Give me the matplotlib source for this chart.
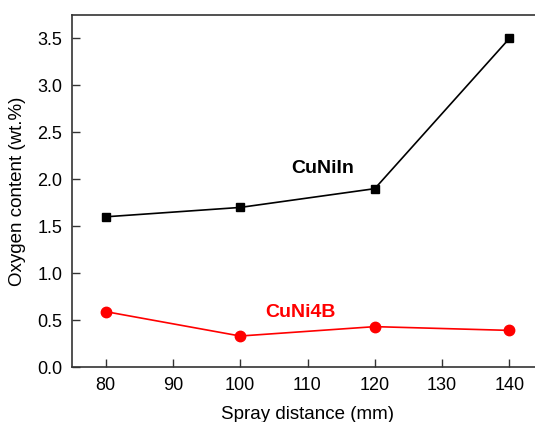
import matplotlib.pyplot as plt

plt.rcParams['font.family'] = ['Liberation Sans', 'DejaVu Sans']

distance = [80, 100, 120, 140]
cuniin = [1.6, 1.7, 1.9, 3.5]
cuni4b = [0.59, 0.33, 0.43, 0.39]

fig = plt.figure(figsize=(5.35, 4.22), dpi=100)
# axes runs past the right edge of the figure like the reference
ax = fig.add_axes([72/535, (422-367)/422, (543-72)/535, (367-15)/422])

ax.plot(distance, cuniin, color='black', lw=1.2, marker='s', ms=6)
ax.plot(distance, cuni4b, color='red', lw=1.2, marker='o', ms=7.5)

ax.text(112.3, 2.12, 'CuNiIn', fontsize=14, fontweight='bold', color='black', ha='center', va='center')
ax.text(109.0, 0.58, 'CuNi4B', fontsize=14, fontweight='bold', color='red', ha='center', va='center')

ax.set_xlim(75, 145)
ax.set_ylim(0, 3.75)
ax.set_xticks([80, 90, 100, 110, 120, 130, 140])
ax.set_yticks([0, 0.5, 1.0, 1.5, 2.0, 2.5, 3.0, 3.5])
ax.set_yticklabels(['0.0', '0.5', '1.0', '1.5', '2.0', '2.5', '3.0', '3.5'])
ax.tick_params(direction='in', length=6, width=1, labelsize=13, pad=7, color='#333333')
for s in ax.spines.values():
    s.set_linewidth(1.2)
    s.set_color('#333333')

ax.set_xlabel('Spray distance (mm)', fontsize=13.5, labelpad=9)
ax.set_ylabel('Oxygen content (wt.%)', fontsize=13.5, labelpad=8)

fig.savefig('out.png', dpi=100)
